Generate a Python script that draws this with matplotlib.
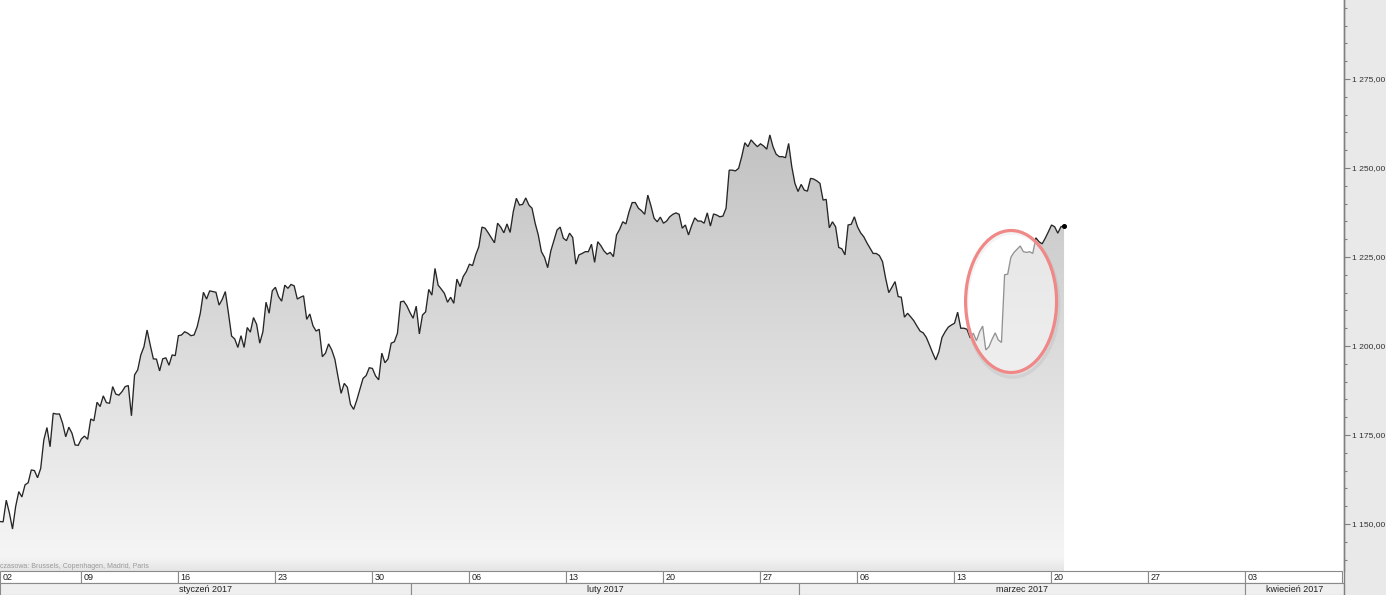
import numpy as np
import matplotlib
matplotlib.use("Agg")
import matplotlib.pyplot as plt
from matplotlib.patches import Polygon, Ellipse, Rectangle
from matplotlib.lines import Line2D
from matplotlib.ticker import MultipleLocator, FuncFormatter

plt.rcParams['font.family'] = ['Liberation Sans', 'DejaVu Sans']

# ---------------- data (index level, intraday, x in trading days from Mon 02.01.2017) -------------
seg_jan_a = [1150.7, 1150.6, 1156.7, 1153.1, 1148.6, 1154.9, 1159.1, 1157.6, 1161.0, 1161.6,
             1165.2, 1165.0, 1163.0, 1165.6, 1173.6, 1177.1, 1171.7, 1181.1, 1180.9, 1180.9,
             1178.3, 1174.5, 1177.2, 1175.5, 1172.2, 1172.1, 1173.9, 1174.7, 1173.8, 1179.5,
             1179.0, 1184.2, 1183.0, 1186.0, 1184.1, 1183.9, 1188.6, 1186.5, 1186.2, 1187.2,
             1188.6, 1188.9, 1180.4, 1191.9, 1193.3, 1197.5, 1199.8, 1204.5, 1200.3, 1196.4,
             1196.3, 1193.0, 1196.4, 1196.7, 1194.6, 1197.5, 1197.3]
seg_jan_b = [1202.9, 1203.1, 1204.0, 1203.6, 1202.9, 1203.1, 1205.4, 1209.2, 1215.1, 1213.2,
             1215.5, 1215.3, 1215.1, 1211.5, 1213.1, 1215.3, 1209.2, 1202.8, 1202.0, 1199.6,
             1202.9, 1199.6, 1205.2, 1203.9, 1208.0, 1206.1, 1200.8, 1204.0, 1212.3, 1209.2,
             1215.5, 1216.5, 1213.9, 1212.6, 1217.1, 1216.2, 1217.3, 1216.9, 1213.2, 1213.7,
             1214.1, 1207.5, 1209.0, 1205.7, 1204.2, 1204.7, 1197.0, 1198.0, 1200.6, 1198.9,
             1196.3, 1191.4, 1186.7, 1189.5, 1188.4, 1183.6, 1182.2, 1184.8]
seg_feb_a = [1187.9, 1190.9, 1191.7, 1193.9, 1193.7, 1191.6, 1190.5, 1198.0, 1195.3, 1196.4,
             1200.8, 1201.2, 1203.6, 1212.4, 1212.6, 1211.3, 1209.4, 1207.8, 1211.2, 1203.4,
             1208.7, 1209.6, 1215.9, 1214.3, 1221.8, 1217.1, 1216.0, 1214.8, 1212.3, 1213.7,
             1212.0, 1218.8, 1216.7, 1219.5, 1220.9, 1223.0, 1222.6, 1225.6, 1227.9, 1233.4,
             1233.1, 1231.8, 1230.4, 1229.0, 1234.5, 1233.4, 1231.8, 1234.3, 1231.9, 1237.7,
             1241.5]
seg_feb_b = [1239.6, 1239.8, 1241.6, 1239.6, 1238.7, 1234.5, 1231.2, 1226.5, 1224.9, 1222.0,
             1226.7, 1229.6, 1232.6, 1233.4, 1230.3, 1229.6, 1231.7, 1230.5, 1223.0, 1225.6,
             1226.0, 1226.5, 1226.5, 1228.6, 1223.5, 1229.3, 1228.2, 1226.7, 1225.8, 1226.3,
             1225.1, 1231.2, 1232.8, 1234.9, 1234.3, 1237.7, 1240.3, 1240.3, 1238.7, 1238.0,
             1237.0, 1242.4, 1239.4, 1235.9, 1234.9, 1236.2, 1234.5, 1235.1, 1236.3, 1237.0,
             1237.4, 1237.0, 1233.1, 1234.0, 1231.2, 1233.8, 1236.0, 1235.1, 1235.1, 1234.5,
             1237.4, 1233.7, 1237.1, 1236.8, 1236.3]
seg_mar_a = [1236.5, 1238.7, 1249.4, 1249.4, 1249.2, 1249.9, 1253.2, 1257.1, 1256.0, 1257.9,
             1256.9, 1256.0, 1256.8, 1256.2, 1255.3, 1259.3, 1256.0, 1253.9, 1253.2, 1253.2,
             1252.9, 1256.9, 1250.4, 1245.7, 1243.4, 1245.4, 1243.8, 1243.5, 1247.1, 1246.9,
             1246.4, 1245.7, 1241.0, 1241.2, 1233.2, 1234.9, 1233.5, 1227.7, 1227.3, 1225.6,
             1234.0, 1234.2, 1236.3, 1233.5, 1231.8, 1230.7, 1229.0, 1227.5, 1226.0, 1226.0,
             1225.4]
seg_mar_b = [1223.7, 1219.0, 1215.0, 1216.5, 1218.1, 1213.9, 1213.7, 1208.1, 1209.2, 1208.2,
             1207.1, 1205.6, 1204.2, 1203.7, 1202.4, 1200.3, 1198.1, 1196.1, 1198.4, 1202.4,
             1204.0, 1205.3, 1205.9, 1206.4, 1209.5, 1205.0, 1205.0, 1204.7, 1202.3, 1203.6,
             1201.5, 1204.0, 1205.6, 1198.9, 1199.8, 1201.9, 1203.7, 1201.7, 1201.0, 1220.0,
             1220.2, 1224.9, 1226.3, 1227.2, 1228.1, 1226.5, 1226.3, 1226.5, 1226.0, 1230.4,
             1229.3, 1228.7, 1230.3, 1232.1, 1234.0, 1233.5, 1231.7, 1233.5, 1233.8]

t_first, t_last = 0.825, 55.67        # first / last sample (trading days)

week_starts = [0, 5, 10, 15, 20, 25, 30, 35, 40, 45, 50, 55, 60, 65]
week_labels = ['02', '09', '16', '23', '30', '06', '13', '20', '27', '06', '13', '20', '27', '03']
month_starts = [0, 22, 42, 65]
month_labels = ['styczeń 2017', 'luty 2017', 'marzec 2017', 'kwiecień 2017']
tz_text = 'czasowa: Brussels, Copenhagen, Madrid, Paris'

values = np.array(seg_jan_a + seg_jan_b + seg_feb_a + seg_feb_b + seg_mar_a + seg_mar_b)
t = np.linspace(t_first, t_last, len(values))

# ---------------- layout ----------------
W, H = 1386, 595
PLOT_R, PLOT_B = 1344, 571
X_LEFT, X_RIGHT = 0.825, 70.1
Y_BOT, Y_TOP = 1136.8, 1297.2

fig = plt.figure(figsize=(W / 100, H / 100), dpi=100)
fig.patch.set_facecolor('white')

# right axis panel background
fig.add_artist(Rectangle((PLOT_R / W, 0), 1 - PLOT_R / W, 1, transform=fig.transFigure,
                         facecolor='#e9e9e9', edgecolor='none', zorder=-1))

ax = fig.add_axes([0, 1 - PLOT_B / H, PLOT_R / W, PLOT_B / H])
ax.set_facecolor('white')

# gradient fill under the line
rows = np.arange(PLOT_B, dtype=float)
g = 178 + 0.12 * rows
band = rows >= 556
g[band] = 245 - (rows[band] - 556) * (17 / 15)
g = np.clip(g / 255.0, 0, 1)
rgb = np.dstack([g[:, None], g[:, None], g[:, None]])
im = ax.imshow(rgb, extent=[X_LEFT, X_RIGHT, Y_BOT, Y_TOP], aspect='auto',
               origin='upper', interpolation='bilinear', zorder=1)
verts = [(t[0], Y_BOT - 5)] + list(zip(t, values)) + [(t[-1], Y_BOT - 5)]
clip = Polygon(verts, closed=True, facecolor='none', edgecolor='none', transform=ax.transData)
ax.add_patch(clip)
im.set_clip_path(clip)

ax.plot(t, values, color='#262626', lw=0.95, zorder=3, solid_joinstyle='miter')
ax.plot([t[-1]], [values[-1]], 'o', ms=2.6, color='black', zorder=3)

# highlight ellipse
ax.add_patch(Ellipse((53.02, 1211.5), 4.75, 40.5, facecolor='none', edgecolor='#b5b5b5',
                     lw=2.5, alpha=0.3, zorder=3.8))
ax.add_patch(Ellipse((52.94, 1212.5), 4.69, 39.9, facecolor=(1, 1, 1, 0.5),
                     edgecolor='#f08888', lw=2.3, zorder=4))

ax.set_xlim(X_LEFT, X_RIGHT)
ax.set_ylim(Y_BOT, Y_TOP)
for s in ['left', 'top', 'bottom']:
    ax.spines[s].set_visible(False)
ax.spines['right'].set_color('#808080')
ax.spines['right'].set_linewidth(1.0)
ax.set_xticks([])
ax.yaxis.tick_right()
ax.yaxis.set_major_locator(MultipleLocator(25))
ax.yaxis.set_minor_locator(MultipleLocator(5))
ax.yaxis.set_major_formatter(FuncFormatter(
    lambda v, _: f"{v:,.2f}".replace(',', ' ').replace('.', ',')))
ax.tick_params(axis='y', which='major', direction='out', length=4, width=0.8,
               color='#808080', labelsize=6.1, labelcolor='#333333', pad=1.5)
ax.tick_params(axis='y', which='minor', direction='out', length=2.2, width=0.8,
               color='#808080')

# ---------------- bottom date rows ----------------
axb = fig.add_axes([0, 0, PLOT_R / W, (H - PLOT_B) / H])
axb.set_xlim(X_LEFT, X_RIGHT)
axb.set_ylim(0, 2)
axb.axis('off')

for s, lab in zip(week_starts, week_labels):
    a = max(s, X_LEFT)
    b = min(s + 5, X_RIGHT)
    axb.add_patch(Rectangle((a, 1), b - a, 1, facecolor='white', edgecolor='#8a8a8a',
                            lw=0.8, clip_on=False))
    axb.text(a + 0.12, 1.5, lab, fontsize=6.5, color='#222222', ha='left', va='center')

m_edges = month_starts + [X_RIGHT]
for i, lab in enumerate(month_labels):
    a = max(m_edges[i], X_LEFT)
    b = min(m_edges[i + 1], X_RIGHT)
    axb.add_patch(Rectangle((a, 0), b - a, 1, facecolor='#efefef', edgecolor='#8a8a8a',
                            lw=0.8, clip_on=False))
    axb.text((a + b) / 2, 0.5, lab, fontsize=6.5, color='#222222', ha='center', va='center')

fig.text(0.5 / W, 1 - 566 / H, tz_text, fontsize=5, color='#9a9a9a', ha='left', va='center')

fig.add_artist(Line2D([PLOT_R / W, PLOT_R / W], [0, 1], transform=fig.transFigure,
                      color='#808080', lw=1.0, zorder=5))

fig.savefig('out.png', dpi=100, facecolor=fig.get_facecolor())
